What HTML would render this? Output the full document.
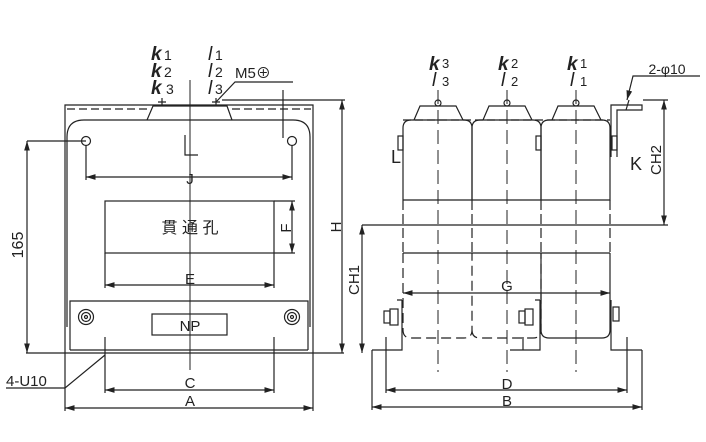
<!DOCTYPE html>
<html><head><meta charset="utf-8"><style>
html,body{margin:0;padding:0;background:#fff;width:706px;height:442px;overflow:hidden}
svg{display:block}
text{font-family:"Liberation Sans","Noto Sans CJK JP",sans-serif;fill:#222}
</style></head><body>
<svg width="706" height="442" viewBox="0 0 706 442" xmlns="http://www.w3.org/2000/svg">
<defs>
<marker id="a" viewBox="0 0 10 6" refX="10" refY="3" markerWidth="8" markerHeight="5" orient="auto-start-reverse"><path d="M0,0L10,3L0,6z" fill="#222"/></marker>
</defs>
<g stroke="#222" stroke-width="1.2" fill="none">
<!-- LEFT VIEW -->
<path d="M65,354V105H313V354"/>
<path d="M67,109H147M232,109H311" stroke-dasharray="8,4"/>
<path d="M147,120L153,106H227L232,120"/>
<path d="M67,327V137Q67,120 84,120H293Q310,120 310,137V327"/>
<path d="M162,98V106M158,102H166M216,98V106M212,102H220"/>
<path d="M190,80V370" stroke-width="1"/>
<circle cx="86" cy="141" r="4.5"/><circle cx="292" cy="141" r="4.5"/>
<path d="M86,146V180M292,146V180"/>
<path d="M86,177H292" marker-start="url(#a)" marker-end="url(#a)"/>
<path d="M283,90V138"/>
<path d="M185,135V155H198"/>
<rect x="105" y="201" width="169" height="52"/>
<path d="M274,201H295M274,253H295"/>
<path d="M292,201V253" marker-start="url(#a)" marker-end="url(#a)"/>
<path d="M105,253V288M274,253V288"/>
<path d="M105,285H274" marker-start="url(#a)" marker-end="url(#a)"/>
<path d="M70,350V301H308V350"/>
<path d="M70,350H308"/>
<path d="M26,353H344"/>
<circle cx="86" cy="317" r="7.5"/><circle cx="86" cy="317" r="4.5"/><circle cx="86" cy="317" r="1.5"/>
<circle cx="292" cy="317" r="7.5"/><circle cx="292" cy="317" r="4.5"/><circle cx="292" cy="317" r="1.5"/>
<rect x="152" y="314" width="75" height="21"/>
<path d="M105,337V393M274,337V393"/>
<path d="M105,390H274" marker-start="url(#a)" marker-end="url(#a)"/>
<path d="M65,354V411M313,354V411"/>
<path d="M65,408H313" marker-start="url(#a)" marker-end="url(#a)"/>
<path d="M6,388H65L105,355"/>
<path d="M27,141H86"/>
<path d="M27,141V353" marker-start="url(#a)" marker-end="url(#a)"/>
<path d="M222,100H345"/>
<path d="M342,100V353" marker-start="url(#a)" marker-end="url(#a)"/>
<path d="M216,102L235,82H293"/>
<!-- RIGHT VIEW -->
<path d="M403,200V128Q403,120 411,120H464Q472,120 472,128V200H403"/>
<path d="M472,200V128Q472,120 480,120H533Q541,120 541,128V200H472"/>
<path d="M541,200V128Q541,120 549,120H602Q610,120 610,128V200H541"/>
<path d="M414,120L420,106H456L463,120M483,120L489,106H525L532,120M552,120L558,106H594L601,120"/>
<path d="M403,120H610" stroke-dasharray="8,4"/>
<path d="M403,200V253M472,200V253M541,200V253M610,200V253" stroke-dasharray="10,4"/>
<path d="M403,253H610"/>
<path d="M403,253V330Q403,338 411,338H464Q472,338 472,330V253M472,330Q472,338 480,338H533Q541,338 541,330V253" stroke-dasharray="10,5"/>
<path d="M541,253V330Q541,338 549,338H602Q610,338 610,330V253"/>
<path d="M438,90V372M507,90V372M576,90V372" stroke-dasharray="14,6" stroke-width="1"/>
<circle cx="438" cy="103" r="3"/><circle cx="507" cy="103" r="3"/><circle cx="576" cy="103" r="3"/>
<path d="M611,157V105H642V110H617V157"/>
<path d="M629,100L626,110"/>
<path d="M700,76H633L627,100" marker-end="url(#a)"/>
<path d="M643,100H668"/>
<path d="M664,100V225" marker-start="url(#a)" marker-end="url(#a)"/>
<path d="M362,225H668"/>
<path d="M362,225V353" marker-start="url(#a)" marker-end="url(#a)"/>
<path d="M403,293H610" marker-start="url(#a)" marker-end="url(#a)"/>
<rect x="398" y="136" width="5" height="14"/><rect x="536" y="136" width="5" height="14"/><rect x="612" y="136" width="5" height="14"/>
<path d="M402,300V350H372M397,300H402"/>
<path d="M540,300V350H510M535,300H540"/>
<path d="M611,300V350H642"/>
<path d="M372,350V410M642,350V410"/>
<path d="M386,337V393M627,337V393M523,337V350"/>
<path d="M386,390H627" marker-start="url(#a)" marker-end="url(#a)"/>
<path d="M372,407H642" marker-start="url(#a)" marker-end="url(#a)"/>
<rect x="384" y="311" width="6" height="12"/><rect x="390" y="309" width="8" height="16"/>
<rect x="519" y="311" width="6" height="12"/><rect x="525" y="309" width="8" height="16"/>
<rect x="613" y="307" width="6" height="14"/>
</g>
<g font-size="19">
<text x="151" y="60" font-style="italic" font-weight="bold" font-family="Liberation Serif,serif">k</text><text x="164" y="60" font-size="14">1</text>
<text x="151" y="77" font-style="italic" font-weight="bold" font-family="Liberation Serif,serif">k</text><text x="164" y="77" font-size="14">2</text>
<text x="151" y="94" font-style="italic" font-weight="bold" font-family="Liberation Serif,serif">k</text><text x="166" y="94" font-size="14">3</text>
<text x="208" y="60" font-style="italic" font-family="Liberation Serif,serif">l</text><text x="215" y="60" font-size="14">1</text>
<text x="208" y="77" font-style="italic" font-family="Liberation Serif,serif">l</text><text x="215" y="77" font-size="14">2</text>
<text x="208" y="94" font-style="italic" font-family="Liberation Serif,serif">l</text><text x="215" y="94" font-size="14">3</text>
<text x="235" y="78" font-size="15">M5⊕</text>
</g>
<g font-size="15" text-anchor="middle">
<text x="190" y="184">J</text>
<text x="190" y="233" font-size="16">貫 通 孔</text>
<text x="190" y="284">E</text>
<text x="190" y="331">NP</text>
<text x="190" y="388">C</text>
<text x="190" y="406">A</text>
<text x="507" y="291">G</text>
<text x="507" y="389">D</text>
<text x="507" y="406">B</text>
<text x="636" y="170" font-size="18">K</text>
<text x="396" y="163" font-size="18">L</text>
<text x="667" y="74" font-size="14">2-φ10</text>
<text transform="translate(291,228) rotate(-90)">F</text>
<text transform="translate(341,227) rotate(-90)">H</text>
<text transform="translate(23,245) rotate(-90)" font-size="16">165</text>
<text transform="translate(359,280) rotate(-90)">CH1</text>
<text transform="translate(661,160) rotate(-90)">CH2</text>
</g>
<text x="6" y="386" font-size="15">4-U10</text>
<g font-size="19">
<text x="429" y="70" font-style="italic" font-weight="bold" font-family="Liberation Serif,serif">k</text><text x="442" y="68" font-size="13">3</text>
<text x="432" y="86" font-style="italic" font-family="Liberation Serif,serif">l</text><text x="442" y="86" font-size="13">3</text>
<text x="498" y="70" font-style="italic" font-weight="bold" font-family="Liberation Serif,serif">k</text><text x="511" y="68" font-size="13">2</text>
<text x="501" y="86" font-style="italic" font-family="Liberation Serif,serif">l</text><text x="511" y="86" font-size="13">2</text>
<text x="567" y="70" font-style="italic" font-weight="bold" font-family="Liberation Serif,serif">k</text><text x="580" y="68" font-size="13">1</text>
<text x="570" y="86" font-style="italic" font-family="Liberation Serif,serif">l</text><text x="580" y="86" font-size="13">1</text>
</g>
</svg>
</body></html>
